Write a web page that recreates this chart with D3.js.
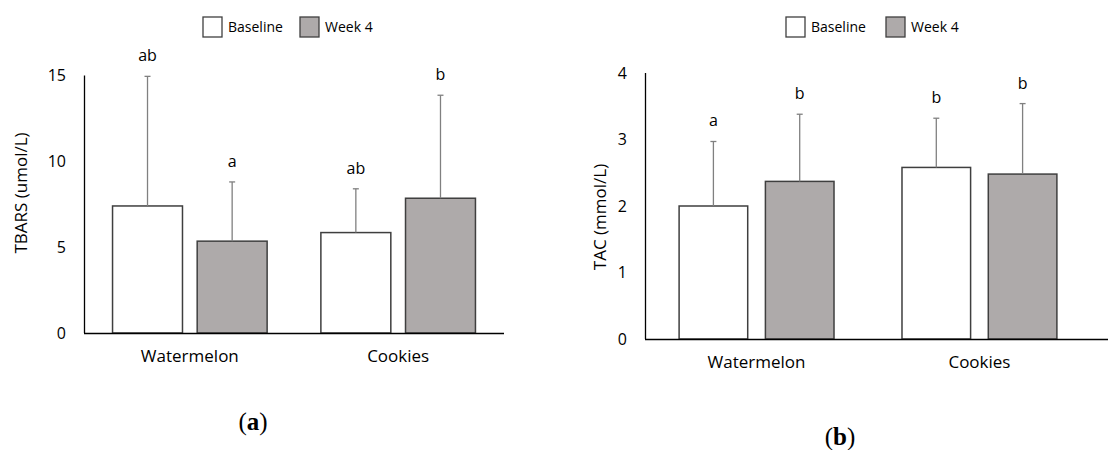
<!DOCTYPE html>
<html><head><meta charset="utf-8">
<script src="https://cdn.jsdelivr.net/npm/d3@7"></script>
<style>
body{margin:0;background:#fff;}
</style></head>
<body><svg id="c" width="1108" height="450" font-family="Open Sans, sans-serif"></svg>
<script>
const categories = ["Watermelon", "Cookies"];
const seriesNames = ["Baseline", "Week 4"];
// Panel (a) TBARS
const tbarsBaseline = [7.4, 5.85];
const tbarsWeek4 = [5.35, 7.85];
const tbarsErrBaseline = [7.55, 2.55];
const tbarsErrWeek4 = [3.45, 6.0];
const tbarsLetters = [["ab", "a"], ["ab", "b"]];
const tbarsTicks = [0, 5, 10, 15];
// Panel (b) TAC
const tacBaseline = [2.0, 2.58];
const tacWeek4 = [2.37, 2.48];
const tacErrBaseline = [0.97, 0.74];
const tacErrWeek4 = [1.01, 1.06];
const tacLetters = [["a", "b"], ["b", "b"]];
const tacTicks = [0, 1, 2, 3, 4];

const svg = d3.select("#c");
const fills = ["#ffffff", "#aeaaaa"];
const FONT = "Open Sans, sans-serif";

function panel(o) {
  const g = svg.append("g");
  const y = d3.scaleLinear().domain([0, o.ymax]).range([o.y0, o.y1]);
  const x0 = d3.scaleBand().domain(categories).range([o.xL, o.xR]).paddingInner(o.padIn).paddingOuter(o.padOut);
  const x1 = d3.scaleBand().domain(seriesNames).range([0, x0.bandwidth()]).paddingInner(o.gap);

  // y axis
  const ya = g.append("g").attr("transform", `translate(${o.xL},0)`)
    .call(d3.axisLeft(y).tickValues(o.ticks).tickFormat(d3.format("d")).tickSize(0).tickPadding(o.tickPad));
  ya.select(".domain").attr("stroke", "#000").attr("stroke-width", 1.3).attr("d", `M0.5,${o.y0}V${o.y1}`);
  ya.selectAll("text").attr("font-size", 16).attr("font-family", FONT).attr("fill", "#000");

  // bars
  categories.forEach((c, i) => {
    const vals = [o.base[i], o.wk[i]];
    const errs = [o.eb[i], o.ew[i]];
    seriesNames.forEach((s, j) => {
      const bx = x0(c) + x1(s);
      const bw = x1.bandwidth();
      g.append("rect").attr("x", bx).attr("y", y(vals[j])).attr("width", bw)
        .attr("height", y(0) - y(vals[j])).attr("fill", fills[j])
        .attr("stroke", "#3f3f3f").attr("stroke-width", 1.5);
      const cx = bx + bw / 2;
      const top = y(vals[j] + errs[j]);
      g.append("line").attr("x1", cx).attr("x2", cx).attr("y1", y(vals[j])).attr("y2", top)
        .attr("stroke", "#808080").attr("stroke-width", 1.3);
      g.append("line").attr("x1", cx - 3).attr("x2", cx + 3).attr("y1", top).attr("y2", top)
        .attr("stroke", "#808080").attr("stroke-width", 1.3);
      g.append("text").attr("x", cx).attr("y", top - 15).attr("text-anchor", "middle")
        .attr("font-size", 16).text(o.letters[i][j]);
    });
  });

  // x axis
  const xa = g.append("g").attr("transform", `translate(0,${o.y0})`)
    .call(d3.axisBottom(x0).tickSize(0).tickPadding(o.catPad));
  xa.select(".domain").attr("stroke", "#000").attr("stroke-width", 1.3).attr("d", `M${o.xL},0.5H${o.xEnd}`);
  xa.selectAll("text").attr("font-size", 17).attr("font-family", FONT).attr("fill", "#000");

  // y title
  g.append("text").attr("transform", `translate(${o.titleX},${o.titleY}) rotate(-90)`)
    .attr("text-anchor", "middle").attr("dy", "0.35em").attr("font-size", 17).text(o.title);

  // legend
  seriesNames.forEach((s, j) => {
    const lx = o.legX[j];
    g.append("rect").attr("x", lx).attr("y", 17).attr("width", 19).attr("height", 20)
      .attr("fill", fills[j]).attr("stroke", "#3f3f3f").attr("stroke-width", 1.3);
    g.append("text").attr("x", lx + 25).attr("y", 27).attr("dy", "0.35em")
      .attr("font-size", 14).text(s);
  });

  // panel label
  const pl = g.append("text").attr("x", o.labX).attr("y", o.labY).attr("text-anchor", "middle")
    .attr("font-family", "Liberation Serif, DejaVu Serif, serif").attr("font-size", 25);
  pl.append("tspan").text("(");
  pl.append("tspan").attr("font-weight", "bold").text(o.lab);
  pl.append("tspan").text(")");
}

panel({ymax: 15, ticks: tbarsTicks, y0: 333, y1: 75.5, xL: 84, xR: 504, xEnd: 504,
  padIn: 0.258, padOut: 0.137, gap: 0.1736, tickPad: 18, catPad: 17,
  base: tbarsBaseline, wk: tbarsWeek4, eb: tbarsErrBaseline, ew: tbarsErrWeek4, letters: tbarsLetters,
  title: "TBARS (umol/L)", titleX: 21, titleY: 193, legX: [203, 300], lab: "a", labX: 253, labY: 430});

panel({ymax: 4, ticks: tacTicks, y0: 339, y1: 73, xL: 645, xR: 1091, xEnd: 1108,
  padIn: 0.305, padOut: 0.153, gap: 0.205, tickPad: 18, catPad: 17,
  base: tacBaseline, wk: tacWeek4, eb: tacErrBaseline, ew: tacErrWeek4, letters: tacLetters,
  title: "TAC (mmol/L)", titleX: 600, titleY: 217, legX: [786, 886], lab: "b", labX: 840, labY: 445});
</script></body></html>
